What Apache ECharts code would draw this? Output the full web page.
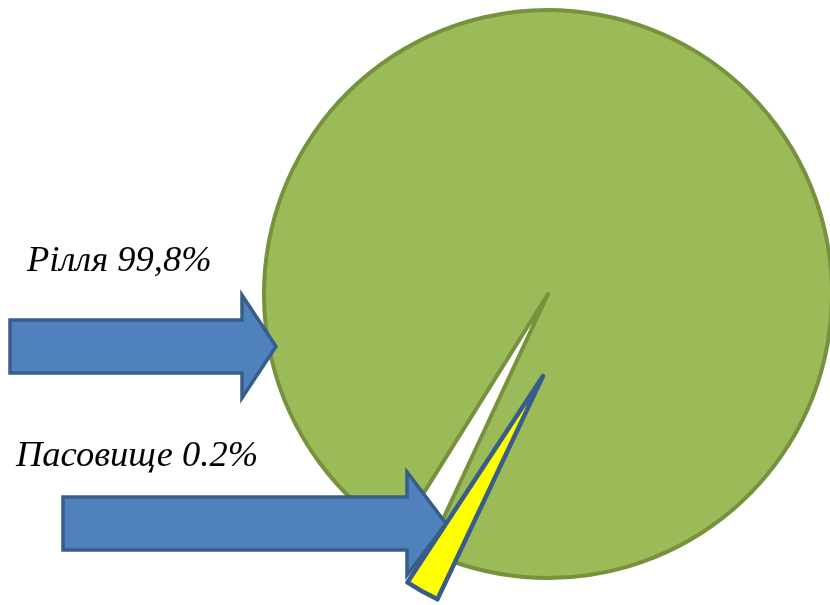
<!DOCTYPE html>
<html>
<head>
<meta charset="utf-8">
<script src="https://cdn.jsdelivr.net/npm/echarts@6/dist/echarts.min.js"></script>
<style>html,body{margin:0;padding:0;background:#fff}#chart{width:830px;height:605px}</style>
</head>
<body>
<div id="chart"></div>
<script>
const categories = ['Пасовище', 'Рілля'];
const values = [0.2, 99.8];
const valueTexts = ['0.2%', '99,8%'];

const chart = echarts.init(document.getElementById('chart'), null, {renderer: 'canvas'});

const GREEN = '#9BBB59', GREEN_DARK = '#76923C';
const YELLOW = '#FFFF00', BLUE = '#4F81BD', BLUE_DARK = '#385D8A';

function pieData(visibleIndex, fill, stroke, bw) {
  return categories.map((c, i) => ({
    name: c,
    value: values[i],
    itemStyle: i === visibleIndex
      ? {color: fill, borderColor: stroke, borderWidth: bw, borderJoin: 'round'}
      : {color: 'rgba(0,0,0,0)', borderWidth: 0}
  }));
}

const commonPie = {
  type: 'pie',
  startAngle: -115,
  clockwise: true,
  minAngle: 7,
  label: {show: false},
  labelLine: {show: false},
  emphasis: {disabled: true},
  silent: true,
  animation: false
};

function arrow(x0, yTop, yBot, xHead, yHeadTop, yHeadBot, xTip) {
  const yMid = (yHeadTop + yHeadBot) / 2;
  return {
    type: 'polygon',
    z: 5,
    shape: {points: [[x0, yTop], [xHead, yTop], [xHead, yHeadTop], [xTip, yMid], [xHead, yHeadBot], [xHead, yBot], [x0, yBot]]},
    style: {fill: BLUE, stroke: BLUE_DARK, lineWidth: 3.5, lineJoin: 'miter'}
  };
}

const font = 'italic 36.5px "Liberation Serif", "Times New Roman", serif';

chart.setOption({
  backgroundColor: '#ffffff',
  animation: false,
  series: [
    Object.assign({}, commonPie, {
      name: 'main', z: 1,
      center: [548, 294], radius: 284,
      data: pieData(1, GREEN, GREEN_DARK, 4)
    }),
    Object.assign({}, commonPie, {
      name: 'exploded', z: 10,
      startAngle: -115.3, minAngle: 8,
      center: [543, 376], radius: 247,
      data: pieData(0, YELLOW, BLUE_DARK, 4.5)
    })
  ],
  graphic: {
    elements: [
      arrow(10, 320, 373, 242, 295, 398, 276),
      arrow(63, 497, 550, 407, 472, 575, 446),
      {type: 'text', z: 6, x: 27, y: 261,
       style: {text: categories[1] + ' ' + valueTexts[1], font: font, fill: '#000', textVerticalAlign: 'middle'}},
      {type: 'text', z: 6, x: 16, y: 456,
       style: {text: categories[0] + ' ' + valueTexts[0], font: font, fill: '#000', textVerticalAlign: 'middle'}}
    ]
  }
});
</script>
</body>
</html>
